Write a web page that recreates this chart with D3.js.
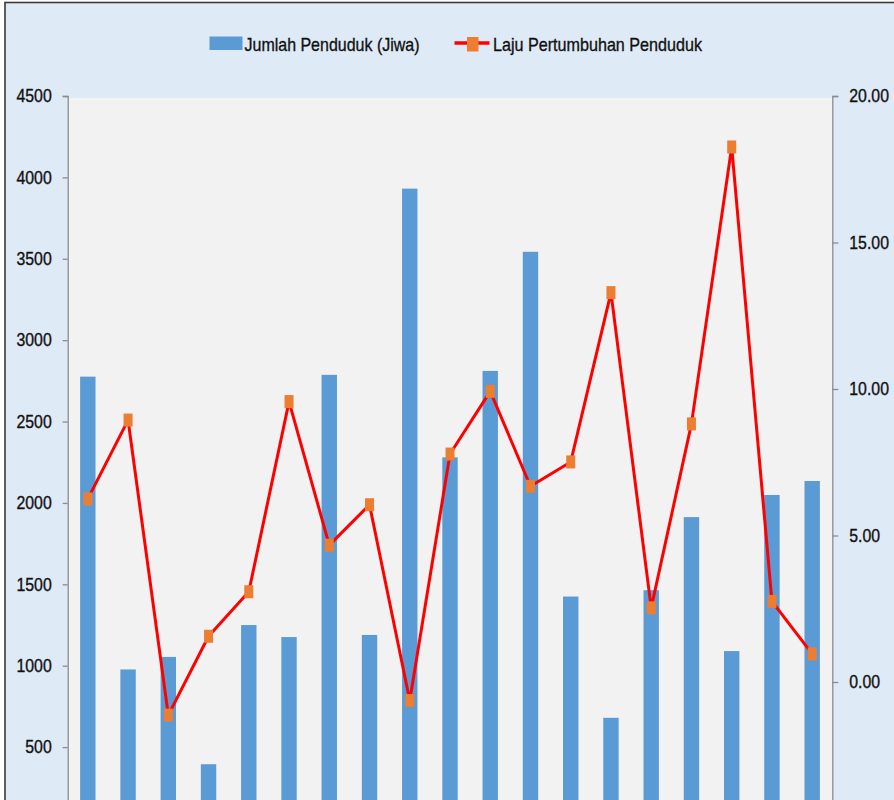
<!DOCTYPE html>
<html>
<head>
<meta charset="utf-8">
<script src="https://cdn.jsdelivr.net/npm/d3@7"></script>
<style>
  html, body { margin: 0; padding: 0; background: #ffffff; }
  svg { display: block; }
  text { font-family: "Liberation Sans", Arial, sans-serif; fill: #111111; }
</style>
</head>
<body>
<svg id="chart" width="894" height="800"></svg>
<script>
// ---- Data ----
const categories = ["1","2","3","4","5","6","7","8","9","10","11","12","13","14","15","16","17","18","19"];
const jumlahPenduduk = [2776, 977, 1054, 395, 1250, 1176, 2787, 1189, 3931, 2280, 2811, 3543, 1425, 680, 1464, 1913, 1090, 2049, 2135];
const lajuPertumbuhan = [6.25, 8.94, -1.13, 1.56, 3.08, 9.57, 4.67, 6.05, -0.63, 7.78, 9.92, 6.68, 7.51, 13.29, 2.53, 8.81, 18.26, 2.75, 0.96];
const leftTicks = [500, 1000, 1500, 2000, 2500, 3000, 3500, 4000, 4500];
const rightTicks = [0, 5, 10, 15, 20];
const seriesNames = ["Jumlah Penduduk (Jiwa)", "Laju Pertumbuhan Penduduk"];

// ---- Layout ----
const W = 894, H = 800;
const plot = { left: 67.7, right: 832.3, top: 96, bottom: 828.5 };

const svg = d3.select("#chart");

// outer chart area
svg.append("rect")
  .attr("x", 5).attr("y", 2.5)
  .attr("width", W + 10).attr("height", H + 10)
  .attr("fill", "#deeaf6")
  .attr("stroke", "#3a3a3a").attr("stroke-width", 1.6);

// plot area
svg.append("rect")
  .attr("x", plot.left).attr("y", plot.top + 2)
  .attr("width", plot.right - plot.left).attr("height", plot.bottom - plot.top)
  .attr("fill", "#f2f2f2");

// ---- Scales ----
const xc = d3.scaleBand().domain(categories).range([plot.left, plot.right]);
const yL = d3.scaleLinear().domain([0, 4500]).range([plot.bottom, plot.top]);
const yR = d3.scaleLinear().domain([-5, 20]).range([plot.bottom, plot.top]);

// ---- Bars ----
svg.append("g").selectAll("rect")
  .data(jumlahPenduduk)
  .join("rect")
  .attr("x", (d, i) => xc(categories[i]) + xc.bandwidth() / 2 - 7.7)
  .attr("width", 15.4)
  .attr("y", d => yL(d))
  .attr("height", d => yL(0) - yL(d))
  .attr("fill", "#5b9bd5");

// ---- Line ----
const line = d3.line()
  .x((d, i) => xc(categories[i]) + xc.bandwidth() / 2)
  .y(d => yR(d));

svg.append("path")
  .datum(lajuPertumbuhan)
  .attr("d", line)
  .attr("fill", "none")
  .attr("stroke", "#ff0000")
  .attr("stroke-width", 3)
  .attr("stroke-linejoin", "round");

svg.append("g").selectAll("rect")
  .data(lajuPertumbuhan)
  .join("rect")
  .attr("x", (d, i) => xc(categories[i]) + xc.bandwidth() / 2 - 4.5)
  .attr("y", d => yR(d) - 6.5)
  .attr("width", 9).attr("height", 13)
  .attr("fill", "#ed7d31");

// ---- Axes ----
function compress(sel, factor) {
  sel.each(function() {
    const w = this.getComputedTextLength();
    d3.select(this).attr("textLength", w * factor).attr("lengthAdjust", "spacingAndGlyphs");
  });
}

const axL = svg.append("g").attr("transform", `translate(${plot.left},0)`)
  .call(d3.axisLeft(yL).tickValues(leftTicks).tickFormat(d3.format("d")).tickSize(5).tickPadding(11));
const axR = svg.append("g").attr("transform", `translate(${plot.right},0)`)
  .call(d3.axisRight(yR).tickValues(rightTicks).tickFormat(d3.format(".2f")).tickSize(6).tickPadding(11));

[axL, axR].forEach(ax => {
  ax.select(".domain").attr("stroke", "#8c8c8c").attr("stroke-width", 1.3);
  ax.selectAll(".tick line").attr("stroke", "#8c8c8c").attr("stroke-width", 1.3);
  ax.selectAll(".tick text")
    .attr("font-family", "'Liberation Sans', Arial, sans-serif")
    .attr("font-size", 18)
    .attr("fill", "#111111")
    .attr("stroke", "#111111").attr("stroke-width", 0.35);
  compress(ax.selectAll(".tick text"), 0.88);
});

// ---- Legend ----
const leg = svg.append("g");
leg.append("rect").attr("x", 209.5).attr("y", 36.5).attr("width", 33).attr("height", 13.5).attr("fill", "#5b9bd5");
leg.append("text").attr("x", 244.5).attr("y", 50.5)
  .attr("font-size", 19).attr("stroke", "#111111").attr("stroke-width", 0.35)
  .text(seriesNames[0])
  .attr("textLength", 175).attr("lengthAdjust", "spacingAndGlyphs");

leg.append("line").attr("x1", 454.5).attr("x2", 489.5).attr("y1", 43).attr("y2", 43)
  .attr("stroke", "#ff0000").attr("stroke-width", 3.5);
leg.append("rect").attr("x", 467).attr("y", 37).attr("width", 11.5).attr("height", 14.5).attr("fill", "#ed7d31");
leg.append("text").attr("x", 493).attr("y", 50.5)
  .attr("font-size", 19).attr("stroke", "#111111").attr("stroke-width", 0.35)
  .text(seriesNames[1])
  .attr("textLength", 209).attr("lengthAdjust", "spacingAndGlyphs");
</script>
</body>
</html>
